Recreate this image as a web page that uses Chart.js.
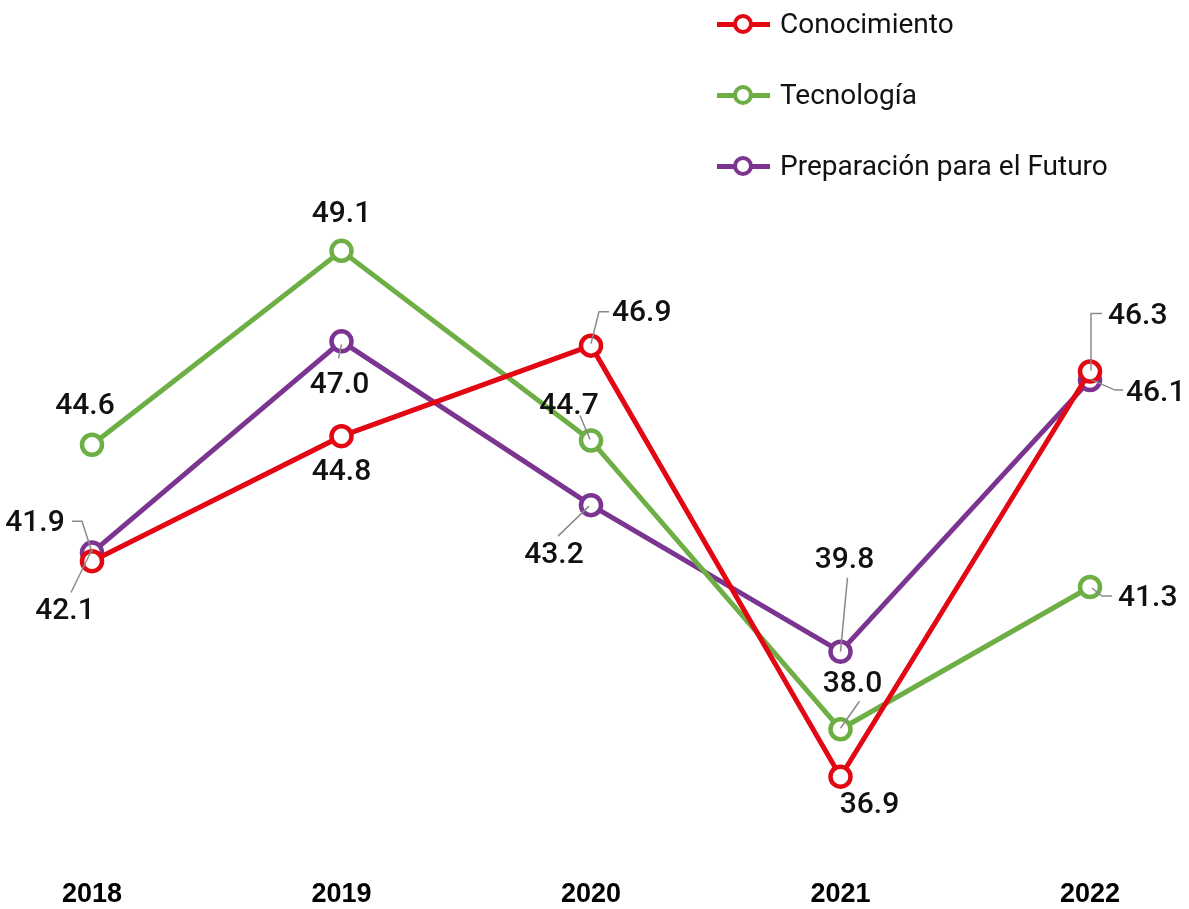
<!DOCTYPE html>
<html lang="es">
<head>
    <meta charset="UTF-8">
    <title>Conocimiento, Tecnología y Preparación para el Futuro</title>
    <script src="https://cdn.jsdelivr.net/npm/chart.js"></script>
    <style>
        body {
            margin: 0;
            padding: 0;
            background-color: #fff;
        }

        .wrap {
            position: relative;
            width: 1189px;
            height: 909px;
        }

        .legend {
            position: absolute;
            left: 717px;
            top: 0;
            font-family: Roboto, sans-serif;
            font-size: 28px;
            color: #111;
        }

        .legend-item {
            position: absolute;
            left: 0;
            height: 30px;
            white-space: nowrap;
        }

        .legend-item .line {
            position: absolute;
            left: 0;
            top: 13px;
            width: 53px;
            height: 5px;
        }

        .legend-item .dot {
            position: absolute;
            left: 16px;
            top: 5px;
            width: 12px;
            height: 12px;
            border-radius: 50%;
            border: 4.5px solid;
            background: #fff;
        }

        .legend-item .txt {
            position: absolute;
            left: 63px;
            top: -2px;
            line-height: 34px;
        }
    </style>
</head>
<body>
<div class="wrap">
    <canvas id="myChart" width="1189" height="909"></canvas>
    <div class="legend" id="legend"></div>
</div>

<script>
    var years = ['2018', '2019', '2020', '2021', '2022'];
    var seriesNames = ['Conocimiento', 'Tecnología', 'Preparación para el Futuro'];
    var conocimiento = [41.9, 44.8, 46.9, 36.9, 46.3];
    var tecnologia = [44.6, 49.1, 44.7, 38.0, 41.3];
    var preparacion = [42.1, 47.0, 43.2, 39.8, 46.1];
    var colors = ['#e30613', '#6dae45', '#7b3590'];

    // label placement relative to the point: dx, dy, text align, leader path
    var labelPlace = [
        [
            [-57, -38, 'center', [[0, -9], [-10, -40], [-20, -40]]],
            [0, 36, 'center', null],
            [21, -32, 'left', [[0, -2], [8, -34], [18, -34]]],
            [29, 29, 'center', null],
            [18, -55, 'left', [[1, -1], [1, -58], [12, -58]]]
        ],
        [
            [-7, -38, 'center', null],
            [0, -36, 'center', null],
            [-22, -34, 'center', [[-1, -1], [-11, -25]]],
            [12, -45, 'center', [[0, -1], [19, -28]]],
            [28, 11, 'left', [[2, 1], [12, 9], [22, 9]]]
        ],
        [
            [-27, 59, 'center', [[0, -3], [-21, 40]]],
            [-2, 44, 'center', [[0, 3], [-3, 17]]],
            [-37, 50, 'center', [[-2, 1], [-33, 31]]],
            [4, -91, 'center', [[0, 0], [7, -74]]],
            [36, 13, 'left', [[0, -1], [25, 10], [33, 10]]]
        ]
    ];

    var valueLabels = {
        id: 'valueLabels',
        afterDatasetsDraw: function(chart) {
            var ctx = chart.ctx;
            ctx.save();
            chart.data.datasets.forEach(function(ds, i) {
                var meta = chart.getDatasetMeta(i);
                meta.data.forEach(function(pt, j) {
                    var p = labelPlace[i][j];
                    if (p[3]) {
                        ctx.strokeStyle = '#8a8a8a';
                        ctx.lineWidth = 1.5;
                        ctx.beginPath();
                        p[3].forEach(function(q, k) {
                            if (k === 0) ctx.moveTo(pt.x + q[0], pt.y + q[1]);
                            else ctx.lineTo(pt.x + q[0], pt.y + q[1]);
                        });
                        ctx.stroke();
                    }
                    ctx.fillStyle = '#111';
                    ctx.font = '500 30px Roboto, sans-serif';
                    ctx.textAlign = p[2];
                    ctx.textBaseline = 'middle';
                    ctx.fillText(ds.data[j].toFixed(1), pt.x + p[0], pt.y + p[1]);
                });
            });
            ctx.restore();
        }
    };

    function makeSet(label, data, color) {
        return {
            label: label,
            data: data,
            borderColor: color,
            backgroundColor: color,
            borderWidth: 5,
            tension: 0,
            pointRadius: 10,
            pointBorderWidth: 4.5,
            pointBackgroundColor: '#fff',
            pointBorderColor: color,
            clip: false
        };
    }

    var all = [conocimiento, tecnologia, preparacion];
    var legend = document.getElementById('legend');
    var rowTops = [9, 80, 151];
    seriesNames.forEach(function(name, i) {
        var item = document.createElement('div');
        item.className = 'legend-item';
        item.style.top = rowTops[i] + 'px';
        item.innerHTML = '<span class="line" style="background:' + colors[i] + '"></span>' +
            '<span class="dot" style="border-color:' + colors[i] + '"></span>' +
            '<span class="txt">' + name + '</span>';
        legend.appendChild(item);
    });

    var ctx = document.getElementById('myChart').getContext('2d');
    var myChart = new Chart(ctx, {
        type: 'line',
        data: {
            labels: years,
            datasets: seriesNames.map(function(n, i) { return makeSet(n, all[i], colors[i]); })
        },
        options: {
            responsive: false,
            animation: false,
            devicePixelRatio: 1,
            layout: {
                padding: { left: 92, right: 99, top: 212, bottom: -22 }
            },
            plugins: {
                legend: { display: false },
                tooltip: { enabled: false }
            },
            scales: {
                x: {
                    offset: false,
                    grid: { display: false, drawTicks: false },
                    border: { display: false },
                    ticks: {
                        padding: 20,
                        color: '#000',
                        font: { family: '"Liberation Sans", Arial, sans-serif', size: 27, weight: 'bold' }
                    }
                },
                y: {
                    display: false,
                    min: 35,
                    max: 50
                }
            }
        },
        plugins: [valueLabels]
    });
</script>
</body>
</html>
